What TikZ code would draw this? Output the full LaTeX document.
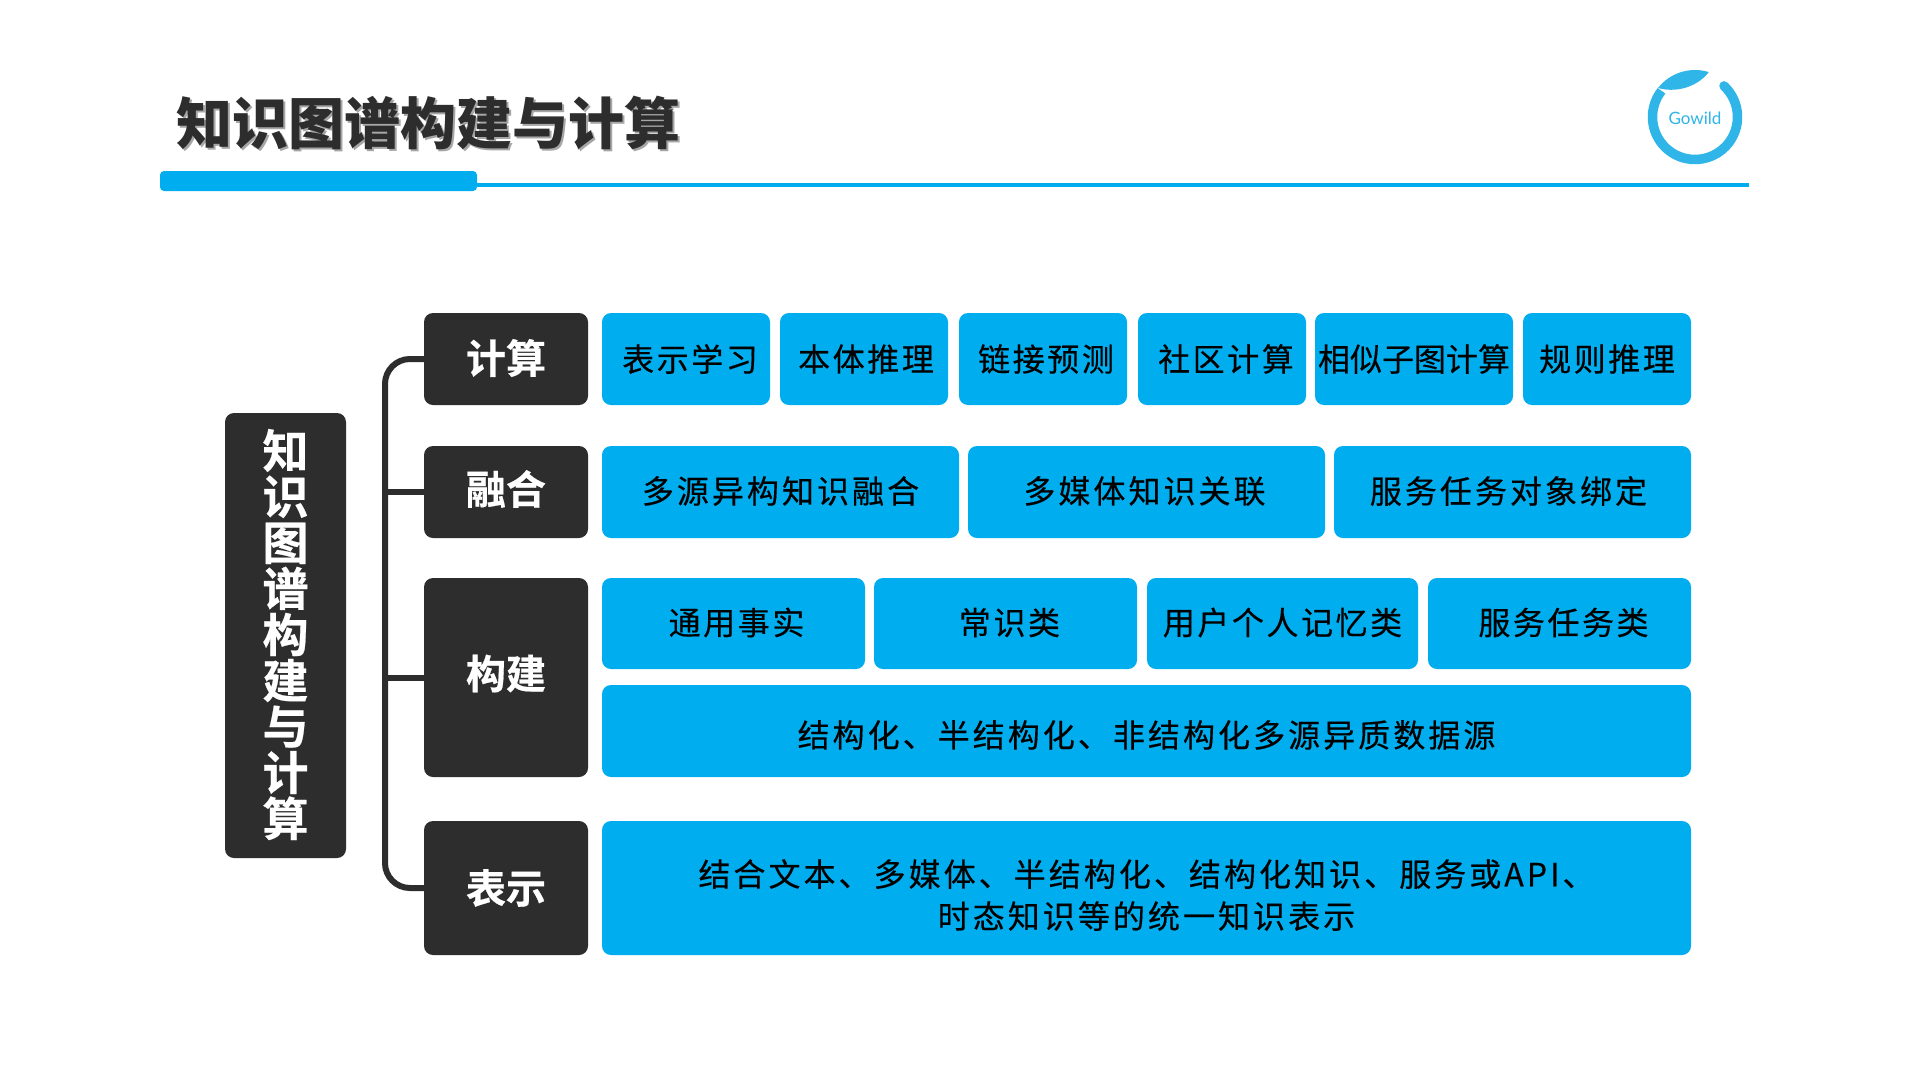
\documentclass[tikz,border=0pt]{standalone}
\usepackage{fontspec}
\setmainfont{Noto Sans CJK SC}
\newfontfamily\cjkbody[LetterSpace=8,FakeBold=0.35]{Noto Sans CJK SC}
\newfontfamily\cjkwide[LetterSpace=9.5,FakeBold=0.35]{Noto Sans CJK SC}
\newfontfamily\cjktight[FakeBold=0.35]{Noto Sans CJK SC}
\newfontfamily\cjkhead{Noto Sans CJK SC Black}
\newfontfamily\cjklabel[FakeBold=0.5]{Noto Sans CJK SC Bold}
\newfontfamily\logofont{Lato}
\definecolor{brandblue}{HTML}{00AEEF}
\definecolor{darkbox}{HTML}{2D2D2D}
\definecolor{logoblue}{HTML}{2FB5E8}
\tikzset{
  x=1pt,y=-1pt,
  boxbase/.style={anchor=north west,inner sep=0pt,outer sep=0pt,rounded corners=9pt},
  bluebox/.style={boxbase,fill=brandblue},
  darkbox/.style={boxbase,fill=darkbox},
  bluetext/.style={inner sep=0pt,align=center,text=black,font={\fontsize{32}{42}\cjkbody}},
  darktext/.style={inner sep=0pt,align=center,text=white,font={\fontsize{40}{46}\cjklabel}},
  wire/.style={draw=darkbox,line width=6pt,rounded corners=25pt},
  titletext/.style={anchor=center,inner sep=0pt,font={\fontsize{56}{60}\cjkhead}},
}
\newcommand{\rootsize}{\fontsize{46}{47.4}\selectfont}
% name, x0, y0, x1, y1, dx, dy (upward), text
\newcommand{\bluenode}[8]{\node[bluebox,minimum width=#4 pt-#2 pt,minimum height=#5 pt-#3 pt] (#1) at (#2,#3) {};
  \node[bluetext] (#1t) at ([xshift=#6 pt,yshift=#7 pt]#1.center) {#8};}
\newcommand{\darknode}[8]{\node[darkbox,minimum width=#4 pt-#2 pt,minimum height=#5 pt-#3 pt] (#1) at (#2,#3) {};
  \node[darktext] (#1t) at ([xshift=#6 pt,yshift=#7 pt]#1.center) {#8};}
\begin{document}
\begin{tikzpicture}
\useasboundingbox[fill=white] (0,0) rectangle (1915,1074);

% header
\node[titletext,text=black!35] (titleshadow) at (430.5,125.5) {知识图谱构建与计算};
\node[titletext,text=darkbox] (title) at (428,123) {知识图谱构建与计算};
\fill[brandblue] (477,183) rectangle (1749,187);
\fill[brandblue,rounded corners=4pt] (160,171) rectangle (477,191);

% logo
\draw[logoblue,line width=9.5pt,line cap=round] (1695,117) ++(-47:42.5) arc[start angle=-47,end angle=140,radius=42.5];
\draw[logoblue,line width=9.5pt] (1695,117) ++(140:42.5) arc[start angle=140,end angle=218,radius=42.5];
\fill[logoblue] (1695,117) ++(218:47) arc[start angle=218,end angle=287,radius=47]
  .. controls (1700,84) and (1680,94) .. (1658,88) -- cycle;
\node[inner sep=0pt,text=logoblue,font={\fontsize{17}{20}\logofont}] (logo) at (1695,118) {Gowild};

% left column
\darknode{root}{225}{413}{346}{858}{0}{1}{\rootsize 知\\\rootsize 识\\\rootsize 图\\\rootsize 谱\\\rootsize 构\\\rootsize 建\\\rootsize 与\\\rootsize 计\\\rootsize 算}
% category boxes
\darknode{jisuan}{424}{313}{588}{405}{0}{1}{计算}
\darknode{ronghe}{424}{446}{588}{538}{0}{3}{融合}
\darknode{goujian}{424}{578}{588}{777}{0}{4}{构建}
\darknode{biaoshi}{424}{821}{588}{955}{0}{0}{表示}

% connectors
\coordinate (trunk) at (385,0);
\draw[wire] (jisuan.west) -- (trunk |- jisuan.west) -- (trunk |- biaoshi.west) -- (biaoshi.west);
\draw[wire] (trunk |- ronghe.west) -- (ronghe.west);
\draw[wire] (trunk |- goujian.west) -- (goujian.west);

% row 1
\bluenode{a1}{602}{313}{770}{405}{4}{0}{表示学习}
\bluenode{a2}{780}{313}{948}{405}{2}{0}{本体推理}
\bluenode{a3}{959}{313}{1127}{405}{3}{0}{链接预测}
\bluenode{a4}{1138}{313}{1306}{405}{4}{0}{社区计算}
\bluenode{a5}{1315}{313}{1513}{405}{0}{0}{\cjktight 相似子图计算}
\bluenode{a6}{1523}{313}{1691}{405}{0}{0}{规则推理}
% row 2
\bluenode{b1}{602}{446}{959}{538}{0}{1}{\cjkwide 多源异构知识融合}
\bluenode{b2}{968}{446}{1325}{538}{-2}{1}{\cjkwide 多媒体知识关联}
\bluenode{b3}{1334}{446}{1691}{538}{-4}{1}{\cjkwide 服务任务对象绑定}
% row 3
\bluenode{c1}{602}{578}{865}{669}{3}{1}{通用事实}
\bluenode{c2}{874}{578}{1137}{669}{4}{1}{常识类}
\bluenode{c3}{1147}{578}{1418}{669}{0}{1}{用户个人记忆类}
\bluenode{c4}{1428}{578}{1691}{669}{4}{1}{服务任务类}
% row 4
\bluenode{d1}{602}{685}{1691}{777}{0}{-4}{\cjkwide 结构化、半结构化、非结构化多源异质数据源}
% row 5
\bluenode{e1}{602}{821}{1691}{955}{0}{-7}{\cjkwide 结合文本、多媒体、半结构化、结构化知识、服务或API、\\\cjkwide 时态知识等的统一知识表示}
\end{tikzpicture}
\end{document}
